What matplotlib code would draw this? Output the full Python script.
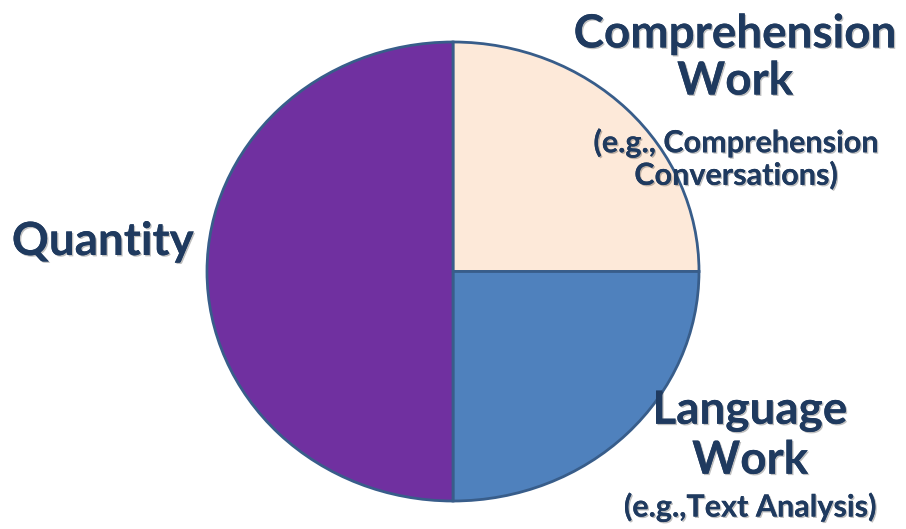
import matplotlib
matplotlib.use('Agg')
import matplotlib.pyplot as plt
import matplotlib.patheffects as pe

# slice data (clockwise from 12 o'clock)
categories = ['Comprehension Work', 'Language Work', 'Quantity']
values = [25, 25, 50]
colors = ['#FDE9D9', '#4F81BD', '#7030A0']

# label texts
comp_title = 'Comprehension\nWork'
comp_sub = '(e.g., Comprehension\nConversations)'
lang_title = 'Language\nWork'
lang_sub = '(e.g.,Text Analysis)'
quant_title = 'Quantity'

W, H = 906, 529
fig = plt.figure(figsize=(W / 100, H / 100), dpi=100)
fig.patch.set_facecolor('white')

# axes spans the (slightly elliptical) pie
left, right, top, bottom = 207, 699, 42, 501
ax = fig.add_axes([left / W, (H - bottom) / H, (right - left) / W, (bottom - top) / H])
ax.pie(values, colors=colors, startangle=90, counterclock=False,
       wedgeprops=dict(edgecolor='#385D8A', linewidth=2))
ax.set_aspect('auto')
ax.set_xlim(-1, 1)
ax.set_ylim(-1, 1)
ax.axis('off')

txt_color = '#1F3A5F'
shadow = [pe.withSimplePatchShadow(offset=(1.0, -1.0), shadow_rgbFace='#000000', alpha=0.25),
          pe.Normal()]


def put(x, y, s, size, ls=1.0):
    fig.text(x / W, 1 - y / H, s, ha='center', va='center', fontsize=size,
             fontweight='bold', family='Lato', color=txt_color,
             linespacing=ls, path_effects=shadow)


put(735, 58, comp_title, 33, 1.15)
put(736, 159, comp_sub, 22, 1.15)
put(103, 242, quant_title, 33)
put(750, 436, lang_title, 33, 1.22)
put(750, 507, lang_sub, 22)

fig.savefig('out.png', dpi=100)
